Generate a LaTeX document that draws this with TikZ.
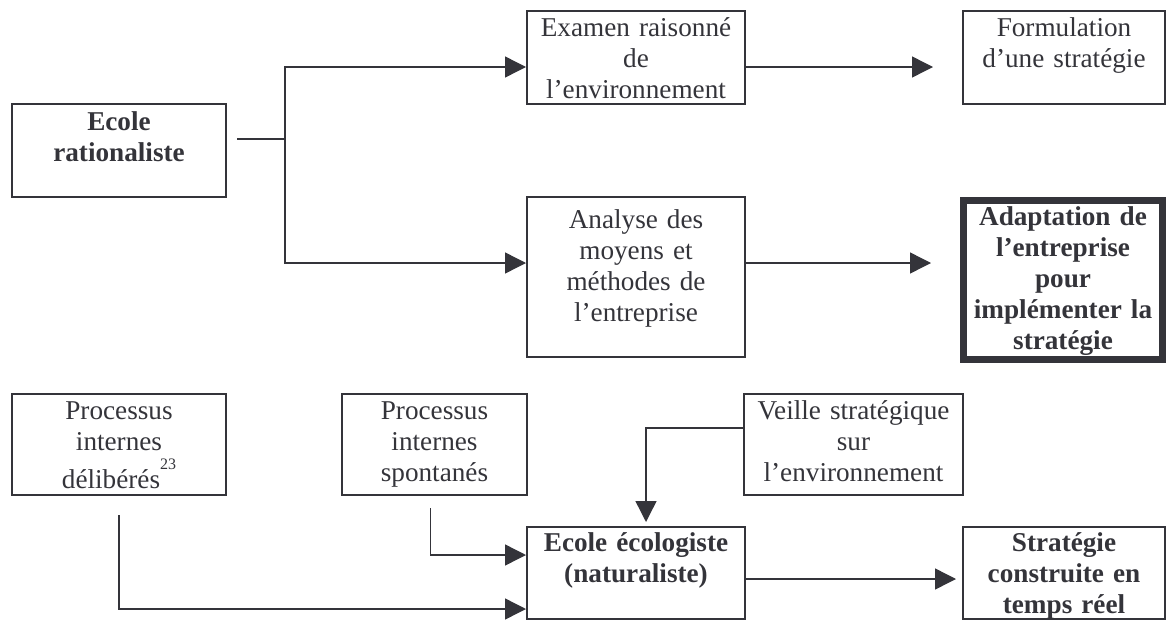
\documentclass[tikz,border=0pt]{standalone}
\usepackage{fontspec}
\setmainfont{Liberation Serif}
\usepackage{tikz}
\usetikzlibrary{arrows.meta}
\definecolor{ink}{RGB}{52,52,58}

\tikzset{
  box/.style={draw=ink, line width=1pt, inner sep=0pt, align=center, anchor=base,
    text=ink, font=\fontsize{13.6}{15.5}\selectfont},
  line/.style={draw=ink, line width=0.7pt},
  arr/.style={line, -{Triangle[length=10.5pt,width=10.5pt]}}
}

\begin{document}
\begin{tikzpicture}[x=0.5pt, y=-0.5pt]
\useasboundingbox (0,0) rectangle (1167,621);
% ecole rationaliste
\node[box, text width=107pt, text height=13pt, text depth=33.5pt] (rat) at (119,130) {\bfseries Ecole\\ rationaliste};
\node[box, text width=109pt, text height=12.5pt, text depth=34pt] (exam) at (636,36) {Examen raisonn\'e\\ de\\ l'environnement};
\node[box, text width=101pt, text height=12.5pt, text depth=34pt] (form) at (1064,36) {Formulation\\ d'une strat\'egie};
\node[box, text width=109pt, text height=15.5pt, text depth=64.5pt] (anal) at (636,228) {Analyse des\\ moyens et\\ m\'ethodes de\\ l'entreprise};
\node[box, line width=3.5pt, text width=99.5pt, text height=12.25pt, text depth=67.25pt] (adap) at (1063,225) {\bfseries Adaptation de\\ l'entreprise\\ pour\\ impl\'ementer la\\ strat\'egie};
% ecole ecologiste
\node[box, text width=107pt, text height=12.5pt, text depth=38pt] (delib) at (119,419) {Processus\\ internes\\[3.5pt] d\'elib\'er\'es\raisebox{9.5pt}{\fontsize{8}{8}\selectfont 23}};
\node[box, text width=92.5pt, text height=12.5pt, text depth=38pt] (spont) at (434.5,419) {Processus\\ internes\\ spontan\'es};
\node[box, text width=109.5pt, text height=12.5pt, text depth=38pt] (veil) at (853.5,419) {Veille strat\'egique\\ sur\\ l'environnement};
\node[box, text width=109pt, text height=12pt, text depth=34pt] (ecol) at (636,551) {\bfseries Ecole \'ecologiste\\ (naturaliste)};
\node[box, text width=101pt, text height=12pt, text depth=34pt] (strt) at (1064,551) {\bfseries Strat\'egie\\ construite en\\ temps r\'eel};

\coordinate (ratout) at (237,139);
\coordinate (fork) at (285,139);
\coordinate (fkt) at (285,67);
\coordinate (fkb) at (285,263);
\coordinate (inlo) at (0,609);
\coordinate (inhi) at (0,555);
\coordinate (veilout) at (0,428);
\coordinate (ecolout) at (0,579);

\draw[line] (ratout) -- (fork);
\draw[arr] (fork) -- (fkt) -- (fkt -| exam.west);
\draw[arr] (fork) -- (fkb) -- (fkb -| anal.west);
\draw[arr, shorten >=14.5pt] (fkt -| exam.east) -- (fkt -| form.west);
\draw[arr, shorten >=14.5pt] (fkb -| anal.east) -- (fkb -| adap.west);

\draw[arr, shorten <=9.5pt] (delib.south) |- (inlo -| ecol.west);
\draw[arr, shorten <=6pt] ([xshift=-2pt]spont.south) |- (inhi -| ecol.west);
\draw[arr, shorten >=2pt] (veilout -| veil.west) -| ([xshift=5pt]ecol.north);
\draw[arr, shorten >=3pt] (ecolout -| ecol.east) -- (ecolout -| strt.west);
\end{tikzpicture}
\end{document}
